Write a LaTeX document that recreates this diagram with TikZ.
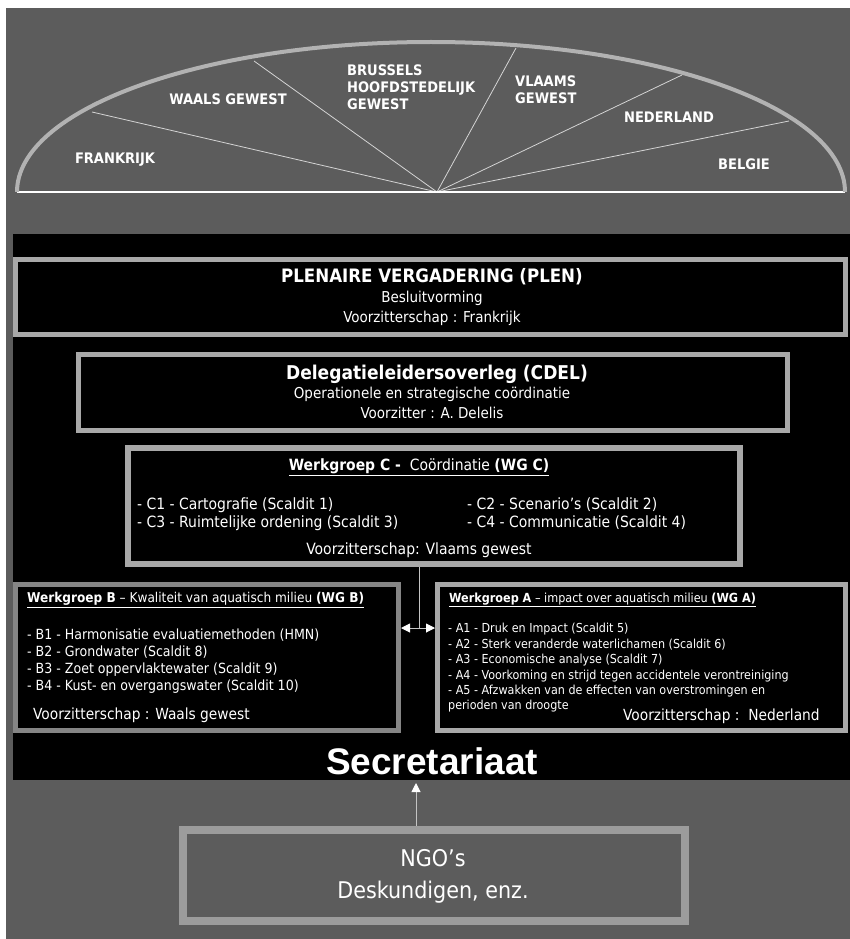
\documentclass[tikz,border=0pt]{standalone}
\usepackage{fontspec}
\setmainfont{DejaVu Sans Condensed}[BoldFont={DejaVu Sans Condensed Bold}]
\newfontfamily\secfont{Liberation Sans}
\usetikzlibrary{arrows.meta}

\definecolor{bggray}{HTML}{5C5C5C}
\definecolor{framegray}{HTML}{A8A8A8}
\definecolor{darkframe}{HTML}{858585}
\definecolor{arcgray}{HTML}{B2B2B2}
\definecolor{ngogray}{HTML}{9C9C9C}
\definecolor{spokegray}{HTML}{D4D4D4}
\definecolor{linkgray}{HTML}{C4C4C4}

\tikzset{
  panel/.style={draw=framegray, line width=5pt, fill=black, inner sep=0pt},
  region/.style={text=white, inner sep=0pt, align=left, font=\bfseries\fontsize{14.5}{17}\selectfont},
  txt/.style={text=white, inner sep=0pt},
  item/.style={text=white, inner sep=0pt, anchor=west},
  link/.style={draw=linkgray, line width=1pt},
  tip/.style={-{Triangle[length=9pt,width=9pt,fill=white,color=white]}}
}

\begin{document}
\begin{tikzpicture}[x=1pt,y=-1pt]
  \useasboundingbox (0,0) rectangle (850,939);
  \fill[white] (0,0) rectangle (850,939);
  \fill[bggray] (6,8) rectangle (850,939);

  % halve ellips
  \coordinate (hub) at (437,192);
  \draw[spokegray, line width=0.8pt] (hub) -- (92,112);
  \draw[spokegray, line width=0.8pt] (hub) -- (254,61);
  \draw[spokegray, line width=0.8pt] (hub) -- (516,48);
  \draw[spokegray, line width=0.8pt] (hub) -- (682,75);
  \draw[spokegray, line width=0.8pt] (hub) -- (789,121);
  \draw[white, line width=1.2pt] (17,192) -- (845,192);
  \draw[arcgray, line width=4pt] (17,192) arc[start angle=180, end angle=360, x radius=414, y radius=150];

  \node[region] (fr) at (115,160) {FRANKRIJK};
  \node[region] (wg) at (228,99) {WAALS GEWEST};
  \node[region, anchor=west] (bhg) at (347,87) {BRUSSELS\\HOOFDSTEDELIJK\\GEWEST};
  \node[region, anchor=west] (vg) at (515,89.5) {VLAAMS\\GEWEST};
  \node[region] (nl) at (669,117) {NEDERLAND};
  \node[region] (be) at (744,164) {BELGIE};

  % zwarte band met de organen
  \node[fill=black, inner sep=0pt, minimum width=837pt, minimum height=546pt] (band) at (431.5,507) {};

  \node[panel, minimum width=830pt, minimum height=75pt] (plen) at (430.5,297) {};
  \node[txt, font=\bfseries\fontsize{18.5}{20}\selectfont] (plentitle) at (432,277) {PLENAIRE VERGADERING (PLEN)};
  \node[txt, font=\fontsize{15}{17}\selectfont] (plensub) at (432,298) {Besluitvorming};
  \node[txt, font=\fontsize{15}{17}\selectfont] (plenchair) at (432,318) {Voorzitterschap : Frankrijk};

  \node[panel, minimum width=709pt, minimum height=76pt] (cdel) at (433,392.5) {};
  \node[txt, font=\bfseries\fontsize{19}{21}\selectfont] (cdeltitle) at (437,374) {Delegatieleidersoverleg (CDEL)};
  \node[txt, font=\fontsize{15}{17}\selectfont] (cdelsub) at (432,394) {Operationele en strategische coördinatie};
  \node[txt, font=\fontsize{15}{17}\selectfont] (cdelchair) at (432,413) {Voorzitter : A. Delelis};

  \node[panel, line width=6pt, minimum width=612pt, minimum height=116pt] (wgc) at (434,506) {};
  \node[txt, font=\fontsize{15.5}{17}\selectfont] (wgctitle) at (419,467) {\underline{\textbf{Werkgroep C -}\ \ Coördinatie \textbf{(WG C)}}};
  \node[item, font=\fontsize{15.5}{17}\selectfont] (c1) at (137,505) {- C1 - Cartografie (Scaldit 1)};
  \node[item, font=\fontsize{15.5}{17}\selectfont] (c3) at (137,523) {- C3 - Ruimtelijke ordening (Scaldit 3)};
  \node[item, font=\fontsize{15.5}{17}\selectfont] (c2) at (467,505) {- C2 - Scenario’s (Scaldit 2)};
  \node[item, font=\fontsize{15.5}{17}\selectfont] (c4) at (467,523) {- C4 - Communicatie (Scaldit 4)};
  \node[txt, font=\fontsize{15.5}{17}\selectfont] (wgcchair) at (419,550) {Voorzitterschap: Vlaams gewest};

  \node[panel, draw=darkframe, minimum width=383pt, minimum height=146pt] (wgb) at (207,657.5) {};
  \node[item, font=\fontsize{13.5}{15}\selectfont] (wgbtitle) at (27,600) {\underline{\textbf{Werkgroep B} – Kwaliteit van aquatisch milieu \textbf{(WG B)}}};
  \node[item, font=\fontsize{14}{16}\selectfont] (b1) at (27,635) {- B1 - Harmonisatie evaluatiemethoden (HMN)};
  \node[item, font=\fontsize{14}{16}\selectfont] (b2) at (27,652) {- B2 - Grondwater (Scaldit 8)};
  \node[item, font=\fontsize{14}{16}\selectfont] (b3) at (27,670) {- B3 - Zoet oppervlaktewater (Scaldit 9)};
  \node[item, font=\fontsize{14}{16}\selectfont] (b4) at (27,687) {- B4 - Kust- en overgangswater (Scaldit 10)};
  \node[item, font=\fontsize{15.3}{17}\selectfont] (wgbchair) at (33,715) {Voorzitterschap : Waals gewest};

  \node[panel, minimum width=408pt, minimum height=146pt] (wga) at (641.5,657.5) {};
  \node[item, font=\fontsize{12.5}{14}\selectfont] (wgatitle) at (449,600) {\underline{\textbf{Werkgroep A} – impact over aquatisch milieu \textbf{(WG A)}}};
  \node[item, font=\fontsize{12.4}{14}\selectfont] (a1) at (448,629) {- A1 - Druk en Impact (Scaldit 5)};
  \node[item, font=\fontsize{12.4}{14}\selectfont] (a2) at (448,645) {- A2 - Sterk veranderde waterlichamen (Scaldit 6)};
  \node[item, font=\fontsize{12.4}{14}\selectfont] (a3) at (448,660) {- A3 - Economische analyse (Scaldit 7)};
  \node[item, font=\fontsize{12.4}{14}\selectfont] (a4) at (448,676) {- A4 - Voorkoming en strijd tegen accidentele verontreiniging};
  \node[item, font=\fontsize{12.4}{14}\selectfont] (a5) at (448,691) {- A5 - Afzwakken van de effecten van overstromingen en};
  \node[item, font=\fontsize{12.4}{14}\selectfont] (a5b) at (448,706) {perioden van droogte};
  \node[item, font=\fontsize{15.3}{17}\selectfont] (wgachair) at (623,716) {Voorzitterschap :\ \ Nederland};

  % verbindingen
  \coordinate (split) at (419,628);
  \draw[link] (wgc.south -| split) -- (split);
  \draw[link, tip] (split) -- (wgb.east |- split);
  \draw[link, tip] (split) -- (wga.west |- split);

  \node[txt, font=\secfont\bfseries\fontsize{37}{40}\selectfont] (sec) at (432,761) {Secretariaat};

  \node[panel, draw=ngogray, fill=bggray, line width=8pt, minimum width=502pt, minimum height=91pt] (ngo) at (434,875.5) {};
  \node[txt, font=\fontsize{23}{25}\selectfont] (ngoname) at (433,858) {NGO’s};
  \node[txt, font=\fontsize{23}{25}\selectfont] (ngosub) at (433,892) {Deskundigen, enz.};

  \coordinate (secin) at (416,783);
  \draw[link, tip] (ngo.north -| secin) -- (secin);
\end{tikzpicture}
\end{document}
